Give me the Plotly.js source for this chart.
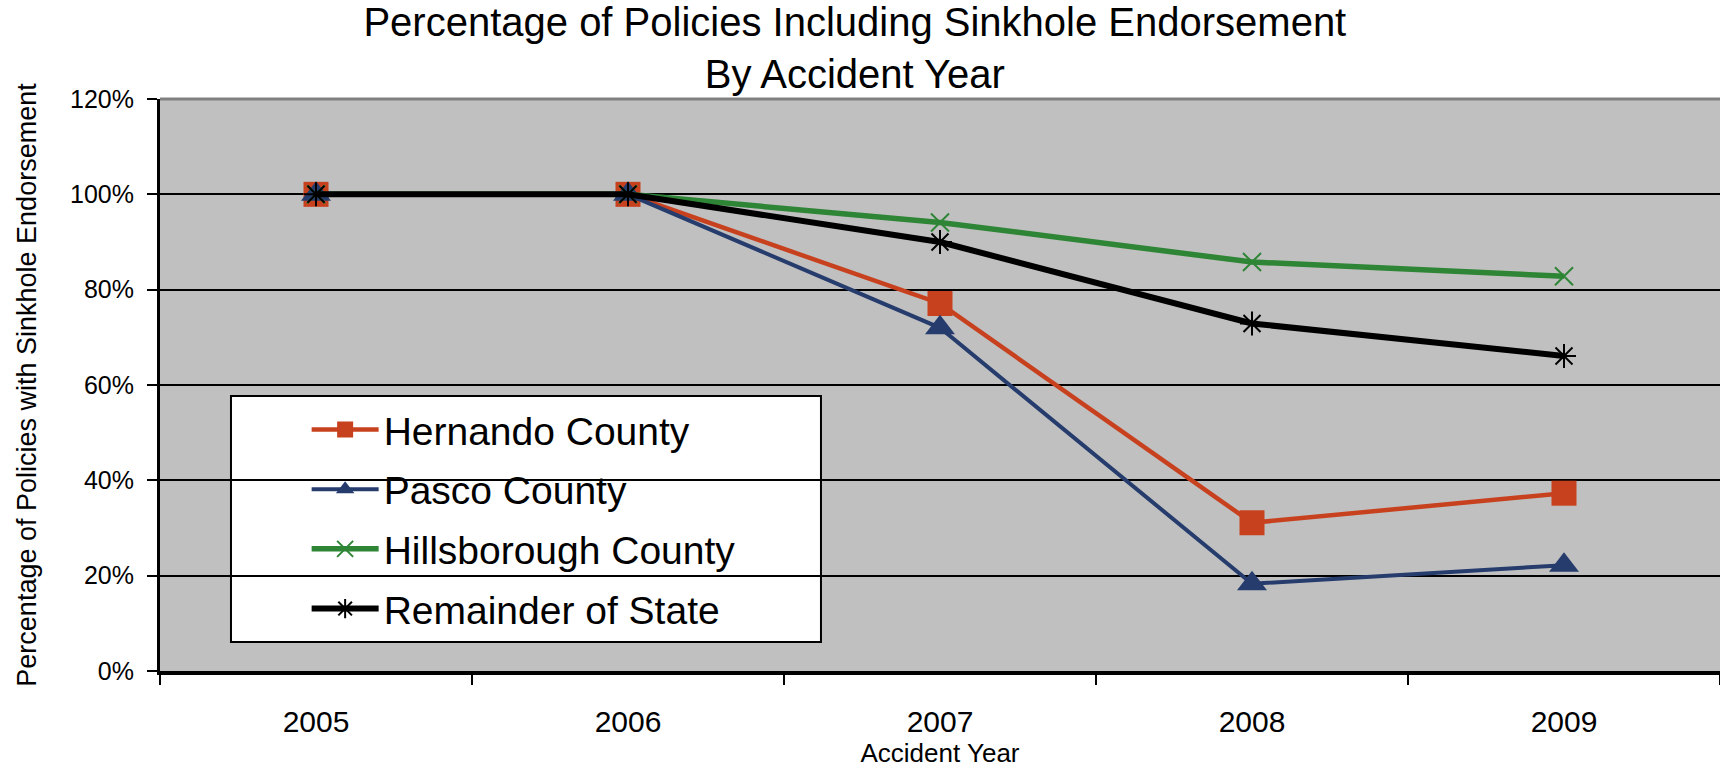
<!DOCTYPE html>
<html>
<head>
<meta charset="utf-8">
<script src="https://cdn.plot.ly/plotly-3.0.1.min.js"></script>
<style>
html, body { margin: 0; padding: 0; background: #ffffff; }
#chart { width: 1720px; height: 768px; }
</style>
</head>
<body>
<div id="chart"></div>
<script>
// ---- data ----
var years = ['2005', '2006', '2007', '2008', '2009'];
var seriesNames = ['Hernando County', 'Pasco County', 'Hillsborough County', 'Remainder of State'];
var hernando = [1.00, 1.00, 0.771, 0.311, 0.373];
var pasco = [1.00, 1.00, 0.720, 0.183, 0.222];
var hillsborough = [1.00, 1.00, 0.941, 0.858, 0.828];
var remainder = [1.00, 1.00, 0.900, 0.729, 0.661];
var yTickVals = [0, 0.2, 0.4, 0.6, 0.8, 1.0, 1.2];
var yTickText = ['0%', '20%', '40%', '60%', '80%', '100%', '120%'];
var titleText = 'Percentage of Policies Including Sinkhole Endorsement<br>By Accident Year';
var yTitle = 'Percentage of Policies with Sinkhole Endorsement';
var xTitle = 'Accident Year';

var FONT = 'Liberation Sans, Arial, sans-serif';

var traces = [
  {
    x: years, y: hernando, name: seriesNames[0], legendgroup: 'g1',
    type: 'scatter', mode: 'lines+markers',
    line: {color: '#C8411F', width: 4.5},
    marker: {symbol: 'square', size: 25, color: '#C8411F'}
  },
  {
    x: years, y: pasco, name: seriesNames[1], legendgroup: 'g2',
    type: 'scatter', mode: 'lines+markers',
    line: {color: '#253C6D', width: 4},
    marker: {symbol: 'triangle-up', size: 26, color: '#253C6D'}
  },
  {
    x: years, y: hillsborough, name: seriesNames[2], legendgroup: 'g3',
    type: 'scatter', mode: 'lines+markers',
    line: {color: '#2E8535', width: 5.5},
    marker: {symbol: 'x-thin-open', size: 18, color: '#2E8535', line: {color: '#2E8535', width: 2}}
  },
  {
    x: years, y: remainder, name: seriesNames[3], legendgroup: 'g4',
    type: 'scatter', mode: 'lines+markers',
    line: {color: '#000000', width: 6},
    marker: {symbol: 'asterisk-open', size: 20, color: '#000000', line: {color: '#000000', width: 2}}
  }
];

var layout = {
  width: 1720, height: 768,
  margin: {l: 160, r: 0, t: 99, b: 97, pad: 0},
  paper_bgcolor: '#ffffff',
  plot_bgcolor: '#C0C0C0',
  font: {family: FONT, color: '#000000'},
  title: {
    text: titleText,
    font: {family: FONT, size: 40, color: '#000000'},
    x: 0.497, xanchor: 'center',
    y: 0.953, yanchor: 'top', yref: 'container'
  },
  showlegend: true,
  legend: {
    x: 0.094, xanchor: 'left',
    y: 0.478, yanchor: 'top',
    bgcolor: 'rgba(0,0,0,0)',
    borderwidth: 0,
    font: {family: FONT, size: 39, color: '#000000'},
    itemwidth: 67,
    tracegroupgap: 6,
    traceorder: 'grouped'
  },
  xaxis: {
    type: 'category',
    range: [-0.5, 4.5],
    showgrid: false,
    zeroline: false,
    showline: true, linecolor: '#000000', linewidth: 4,
    ticks: 'outside', tickson: 'boundaries', ticklen: 10, tickwidth: 2, tickcolor: '#000000',
    tickfont: {family: FONT, size: 30, color: '#000000'},
    ticklabelstandoff: 21,
    title: {text: xTitle, font: {family: FONT, size: 26, color: '#000000'}, standoff: 5},
    fixedrange: true
  },
  yaxis: {
    range: [0, 1.2],
    tickvals: yTickVals, ticktext: yTickText,
    showgrid: true, gridcolor: '#000000', gridwidth: 2,
    zeroline: false,
    showline: true, linecolor: '#000000', linewidth: 3,
    ticks: 'outside', ticklen: 10, tickwidth: 2, tickcolor: '#000000',
    tickfont: {family: FONT, size: 25, color: '#000000'},
    ticklabelstandoff: 8,
    title: {text: yTitle, font: {family: FONT, size: 27, color: '#000000'}, standoff: 26},
    fixedrange: true
  },
  shapes: [
    {type: 'line', xref: 'paper', yref: 'paper', x0: 0, x1: 1, y0: 1, y1: 1,
     line: {color: '#808080', width: 3}},
    {type: 'rect', xref: 'paper', yref: 'paper', layer: 'below',
     x0: 0.0455, x1: 0.4237, y0: 0.0507, y1: 0.4808,
     fillcolor: '#ffffff', line: {color: '#000000', width: 2}}
  ],
  hovermode: false
};

Plotly.newPlot('chart', traces, layout, {displayModeBar: false, staticPlot: true});
</script>
</body>
</html>
